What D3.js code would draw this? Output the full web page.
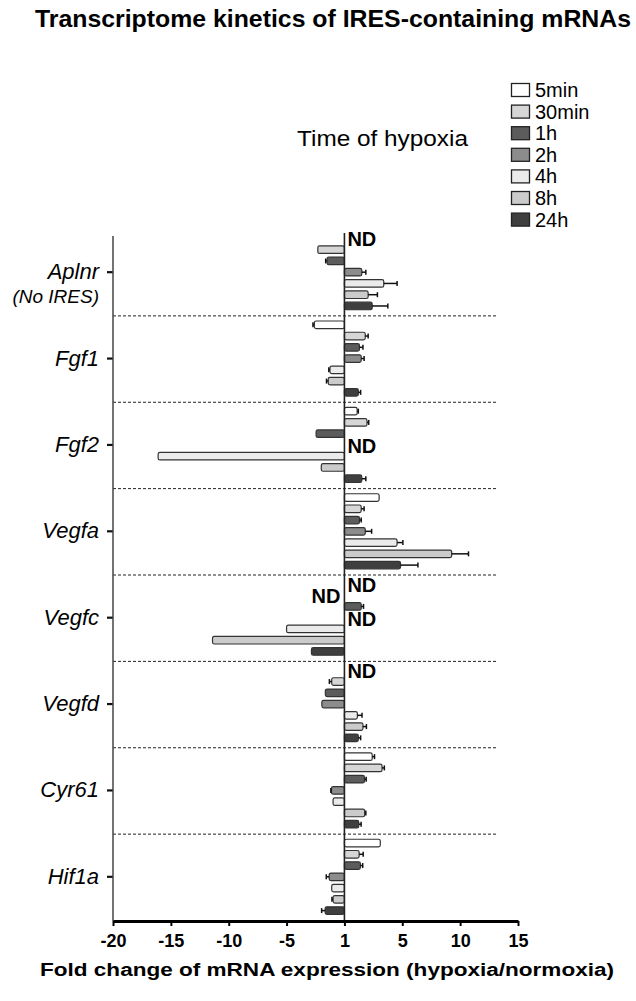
<!DOCTYPE html>
<html>
<head>
<meta charset="utf-8">
<script src="https://cdn.jsdelivr.net/npm/d3@7"></script>
<style>
  html, body { margin: 0; padding: 0; background: #fff; }
  svg { display: block; font-family: "Liberation Sans", Arial, Helvetica, sans-serif; }
</style>
</head>
<body>
<svg id="chart" width="636" height="1001"></svg>
<script>
// ---------- data ----------
const genes = ["Aplnr", "Fgf1", "Fgf2", "Vegfa", "Vegfc", "Vegfd", "Cyr61", "Hif1a"];
const times = ["5min", "30min", "1h", "2h", "4h", "8h", "24h"];
const timeColors = ["#ffffff", "#d6d6d6", "#5c5c5c", "#8c8c8c", "#ebebeb", "#cbcbcb", "#3f3f3f"];
// plotted fold change (1 = no change drawn at the "1" tick); null = ND
const valAplnr = [null, -2.3, -1.5, 1.5, 3.4, 2.05, 2.4];
const valFgf1  = [-2.6, 1.8, 1.3, 1.45, -1.25, -1.4, 1.2];
const valFgf2  = [1.1, 1.95, -2.45, null, -16.1, -2.0, 1.5];
const valVegfa = [3.0, 1.45, 1.3, 1.8, 4.55, 9.27, 4.85];
const valVegfc = [null, null, 1.45, null, -5.0, -11.4, -2.85];
const valVegfd = [null, -1.1, -1.65, -1.95, 1.12, 1.6, 1.2];
const valCyr61 = [2.4, 3.25, 1.73, -1.12, -0.98, 1.75, 1.24];
const valHif1a = [3.1, 1.27, 1.38, -1.32, -1.1, -0.98, -1.67];
const errAplnr = [0, 0, 0.12, 0.35, 1.15, 0.8, 1.35];
const errFgf1  = [0.12, 0.25, 0.3, 0.25, 0.1, 0.15, 0.2];
const errFgf2  = [0.1, 0.15, 0, 0, 0, 0, 0.35];
const errVegfa = [0, 0.25, 0.15, 0.55, 0.5, 1.45, 1.5];
const errVegfc = [0, 0, 0.2, 0, 0, 0, 0];
const errVegfd = [0, 0.2, 0, 0, 0.4, 0.3, 0.2];
const errCyr61 = [0.2, 0.2, 0.15, 0.05, 0, 0.1, 0.2];
const errHif1a = [0, 0.35, 0.2, 0.25, 0, 0.1, 0.3];
// ND labels placed left of the baseline
const ndLeft = [["Vegfc", "30min"]];
const xTickValues = [-20, -15, -10, -5, 0, 5, 10, 15];
const xTickLabels = ["-20", "-15", "-10", "-5", "1", "5", "10", "15"];
const title = "Transcriptome kinetics of IRES-containing mRNAs";
const legendTitle = "Time of hypoxia";
const xTitle = "Fold change of mRNA expression (hypoxia/normoxia)";

const values = [valAplnr, valFgf1, valFgf2, valVegfa, valVegfc, valVegfd, valCyr61, valHif1a];
const errors = [errAplnr, errFgf1, errFgf2, errVegfa, errVegfc, errVegfd, errCyr61, errHif1a];

const rows = [];
genes.forEach((g, gi) => times.forEach((t, ti) => {
  rows.push({ gene: g, time: t, ti, value: values[gi][ti], err: errors[gi][ti] });
}));

// ---------- layout ----------
const svg = d3.select("#chart");
const x = d3.scaleLinear().domain([-20, 15]).range([113, 518]);
const y = d3.scaleBand().domain(genes).range([229, 920]);
const yi = d3.scaleBand().domain(times).range([0, y.bandwidth()]).paddingInner(0.33).paddingOuter(0.5);
const color = d3.scaleOrdinal().domain(times).range(timeColors);
const rowY = d => y(d.gene) + yi(d.time);
const bh = yi.bandwidth();

// title
svg.append("text").attr("x", 35).attr("y", 27)
  .attr("font-size", 24).attr("font-weight", "bold")
  .attr("textLength", 596).attr("lengthAdjust", "spacingAndGlyphs")
  .text(title);

svg.append("text").attr("x", 297).attr("y", 146)
  .attr("font-size", 22)
  .attr("textLength", 171).attr("lengthAdjust", "spacingAndGlyphs")
  .text(legendTitle);

// legend
const lg = svg.append("g");
const lstep = 21.6;
times.forEach((t, i) => {
  const cy = 90 + i * lstep;
  lg.append("rect").attr("x", 511.5).attr("y", cy - 6.5).attr("width", 18).attr("height", 13)
    .attr("fill", color(t)).attr("stroke", "#222").attr("stroke-width", 1.3);
  lg.append("text").attr("x", 535).attr("y", cy + 7).attr("font-size", 20).text(t);
});

// separators
svg.append("g").selectAll("line").data(genes.slice(1)).join("line")
  .attr("x1", 113).attr("x2", 498)
  .attr("y1", d => y(d) + 0.5).attr("y2", d => y(d) + 0.5)
  .attr("stroke", "#222").attr("stroke-width", 1).attr("stroke-dasharray", "3,2");

// bars
const bars = rows.filter(d => d.value !== null);
svg.append("g").selectAll("rect").data(bars).join("rect")
  .attr("x", d => Math.min(x(0), x(d.value)))
  .attr("y", d => rowY(d))
  .attr("width", d => Math.abs(x(d.value) - x(0)))
  .attr("height", bh)
  .attr("rx", 1.8)
  .attr("fill", d => color(d.time))
  .attr("stroke", "#333").attr("stroke-width", 1.2);

// error bars
const eb = bars.filter(d => d.err > 0);
const eg = svg.append("g").attr("stroke", "#111").attr("stroke-width", 1.5);
eg.selectAll("line.h").data(eb).join("line").attr("class", "h")
  .attr("x1", d => x(d.value))
  .attr("x2", d => x(d.value + Math.sign(d.value) * d.err))
  .attr("y1", d => rowY(d) + bh / 2).attr("y2", d => rowY(d) + bh / 2);
eg.selectAll("line.c").data(eb).join("line").attr("class", "c")
  .attr("x1", d => x(d.value + Math.sign(d.value) * d.err))
  .attr("x2", d => x(d.value + Math.sign(d.value) * d.err))
  .attr("y1", d => rowY(d) + bh / 2 - 2.5).attr("y2", d => rowY(d) + bh / 2 + 2.5);

// ND labels
const nd = rows.filter(d => d.value === null);
const isLeft = d => ndLeft.some(p => p[0] === d.gene && p[1] === d.time);
svg.append("g").selectAll("text").data(nd).join("text")
  .attr("x", d => isLeft(d) ? x(0) - 4 : x(0) + 3)
  .attr("y", d => rowY(d) + bh / 2 + 8)
  .attr("text-anchor", d => isLeft(d) ? "end" : "start")
  .attr("font-size", 20).attr("font-weight", "bold")
  .text("ND");

// zero line
svg.append("line").attr("x1", x(0)).attr("x2", x(0)).attr("y1", 233).attr("y2", 921)
  .attr("stroke", "#222").attr("stroke-width", 1.6);

// left axis
const yAxis = d3.axisLeft(y).tickSize(6).tickFormat("");
const ya = svg.append("g").attr("transform", "translate(113,0)").call(yAxis);
ya.select(".domain").remove();
ya.selectAll(".tick line").attr("stroke", "#111").attr("stroke-width", 2.2);
svg.append("line").attr("x1", 113).attr("x2", 113).attr("y1", 236).attr("y2", 921)
  .attr("stroke", "#444").attr("stroke-width", 1.5);

// gene labels
const gl = svg.append("g");
genes.forEach(g => {
  const cy = y(g) + y.bandwidth() / 2;
  gl.append("text").attr("x", 99).attr("y", cy + 7).attr("text-anchor", "end")
    .attr("font-size", 22).attr("font-style", "italic").text(g);
});
gl.append("text").attr("x", 99).attr("y", y("Aplnr") + y.bandwidth() / 2 + 31)
  .attr("text-anchor", "end").attr("font-size", 19).attr("font-style", "italic").text("(No IRES)");

// bottom axis
const xAxis = d3.axisBottom(x).tickValues(xTickValues)
  .tickFormat((d, i) => xTickLabels[i]).tickSize(5).tickSizeOuter(0);
const xa = svg.append("g").attr("transform", "translate(0,921)").call(xAxis);
xa.select(".domain").attr("stroke", "#000").attr("stroke-width", 3);
xa.selectAll(".tick line").attr("stroke", "#000").attr("stroke-width", 2);
xa.selectAll(".tick text").attr("font-size", 18).attr("font-weight", "bold")
  .attr("fill", "#000").attr("dy", "1.0em")
  .attr("font-family", "'Liberation Sans', Arial, sans-serif");

svg.append("text").attr("x", 327).attr("y", 976).attr("text-anchor", "middle")
  .attr("font-size", 18).attr("font-weight", "bold")
  .attr("textLength", 574).attr("lengthAdjust", "spacingAndGlyphs")
  .text(xTitle);
</script>
</body>
</html>
